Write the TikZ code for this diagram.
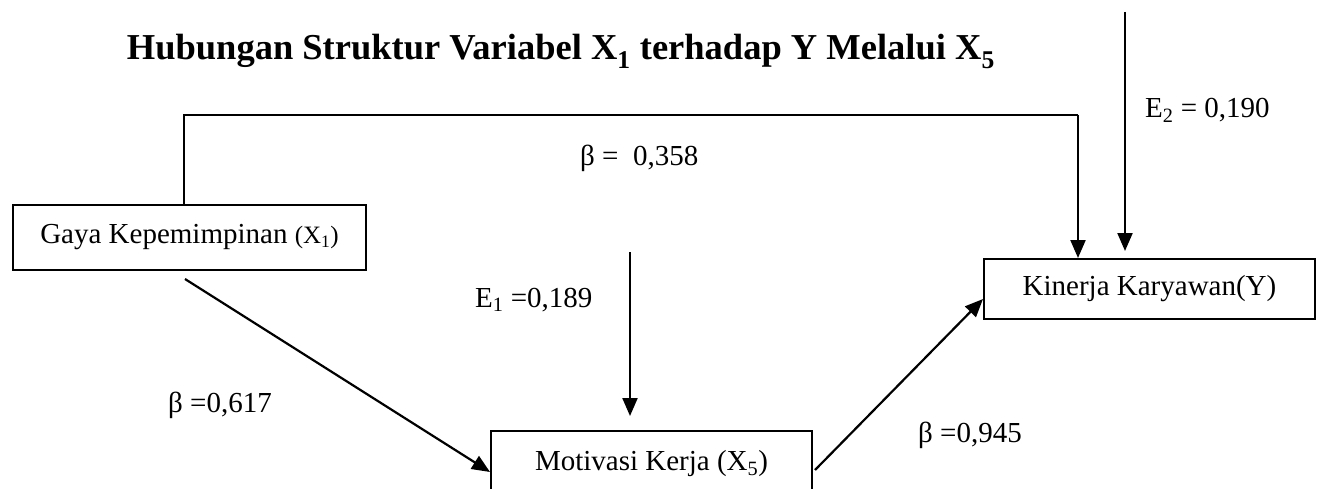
\documentclass[tikz,border=0pt]{standalone}
\usepackage{fontspec}
\setmainfont{Liberation Serif}
\usetikzlibrary{arrows.meta}
\tikzset{
  box/.style={draw, line width=2pt, inner sep=0pt, font=\fontsize{29}{34}\selectfont},
  conn/.style={line width=2.2pt, -{Triangle[length=18pt,width=15pt]}},
  plain/.style={line width=2.2pt},
  lbl/.style={anchor=base west, inner sep=0pt, font=\fontsize{29}{34}\selectfont},
}
\begin{document}
\begin{tikzpicture}[x=1pt,y=-1pt]
\useasboundingbox (0,0) rectangle (1321,489);
\node[anchor=base east, inner sep=0pt, font=\fontsize{36.5}{42}\selectfont\bfseries] (title) at (995,60)
  {Hubungan Struktur Variabel X\textsubscript{1} terhadap Y Melalui X\textsubscript{5}};
\node[box, minimum width=353pt, minimum height=65pt] (gaya) at (189.5,237.5)
  {Gaya Kepemimpinan {\fontsize{25}{30}\selectfont(X\textsubscript{1})}};
\node[box, minimum width=321pt, minimum height=65pt] (motiv) at (651.5,463.5)
  {Motivasi Kerja (X\textsubscript{5})};
\node[box, minimum width=331pt, minimum height=60pt] (kin) at (1149.5,289)
  {Kinerja Karyawan(Y)};
\coordinate (e1) at (630,252);
\coordinate (e2) at (1125,12);
\coordinate (c1) at (184,115);
\coordinate (c2) at (1078,115);
\draw[plain] (gaya.north -| c1) -- (c1) -- (c2);
\draw[conn] (c2) -- (kin.north -| c2);
\draw[conn, shorten >=7pt] (e2) -- (kin.north -| e2);
\draw[conn, shorten >=14pt] (e1) -- (motiv.north -| e1);
\draw[conn] ([xshift=-4.5pt,yshift=-8pt]gaya.south) -- ([yshift=-8.5pt]motiv.west);
\draw[conn] ([xshift=2pt,yshift=-6.5pt]motiv.east) -- ([yshift=-10pt]kin.west);
\node[lbl] (b358) at (580,165) {β =\ \ 0,358};
\node[lbl] (lE2) at (1145,118) {E\textsubscript{2} = 0,190};
\node[lbl] (lE1) at (475,307) {E\textsubscript{1} =0,189};
\node[lbl] (b617) at (168,412) {β =0,617};
\node[lbl] (b945) at (918,442) {β =0,945};
\end{tikzpicture}
\end{document}
